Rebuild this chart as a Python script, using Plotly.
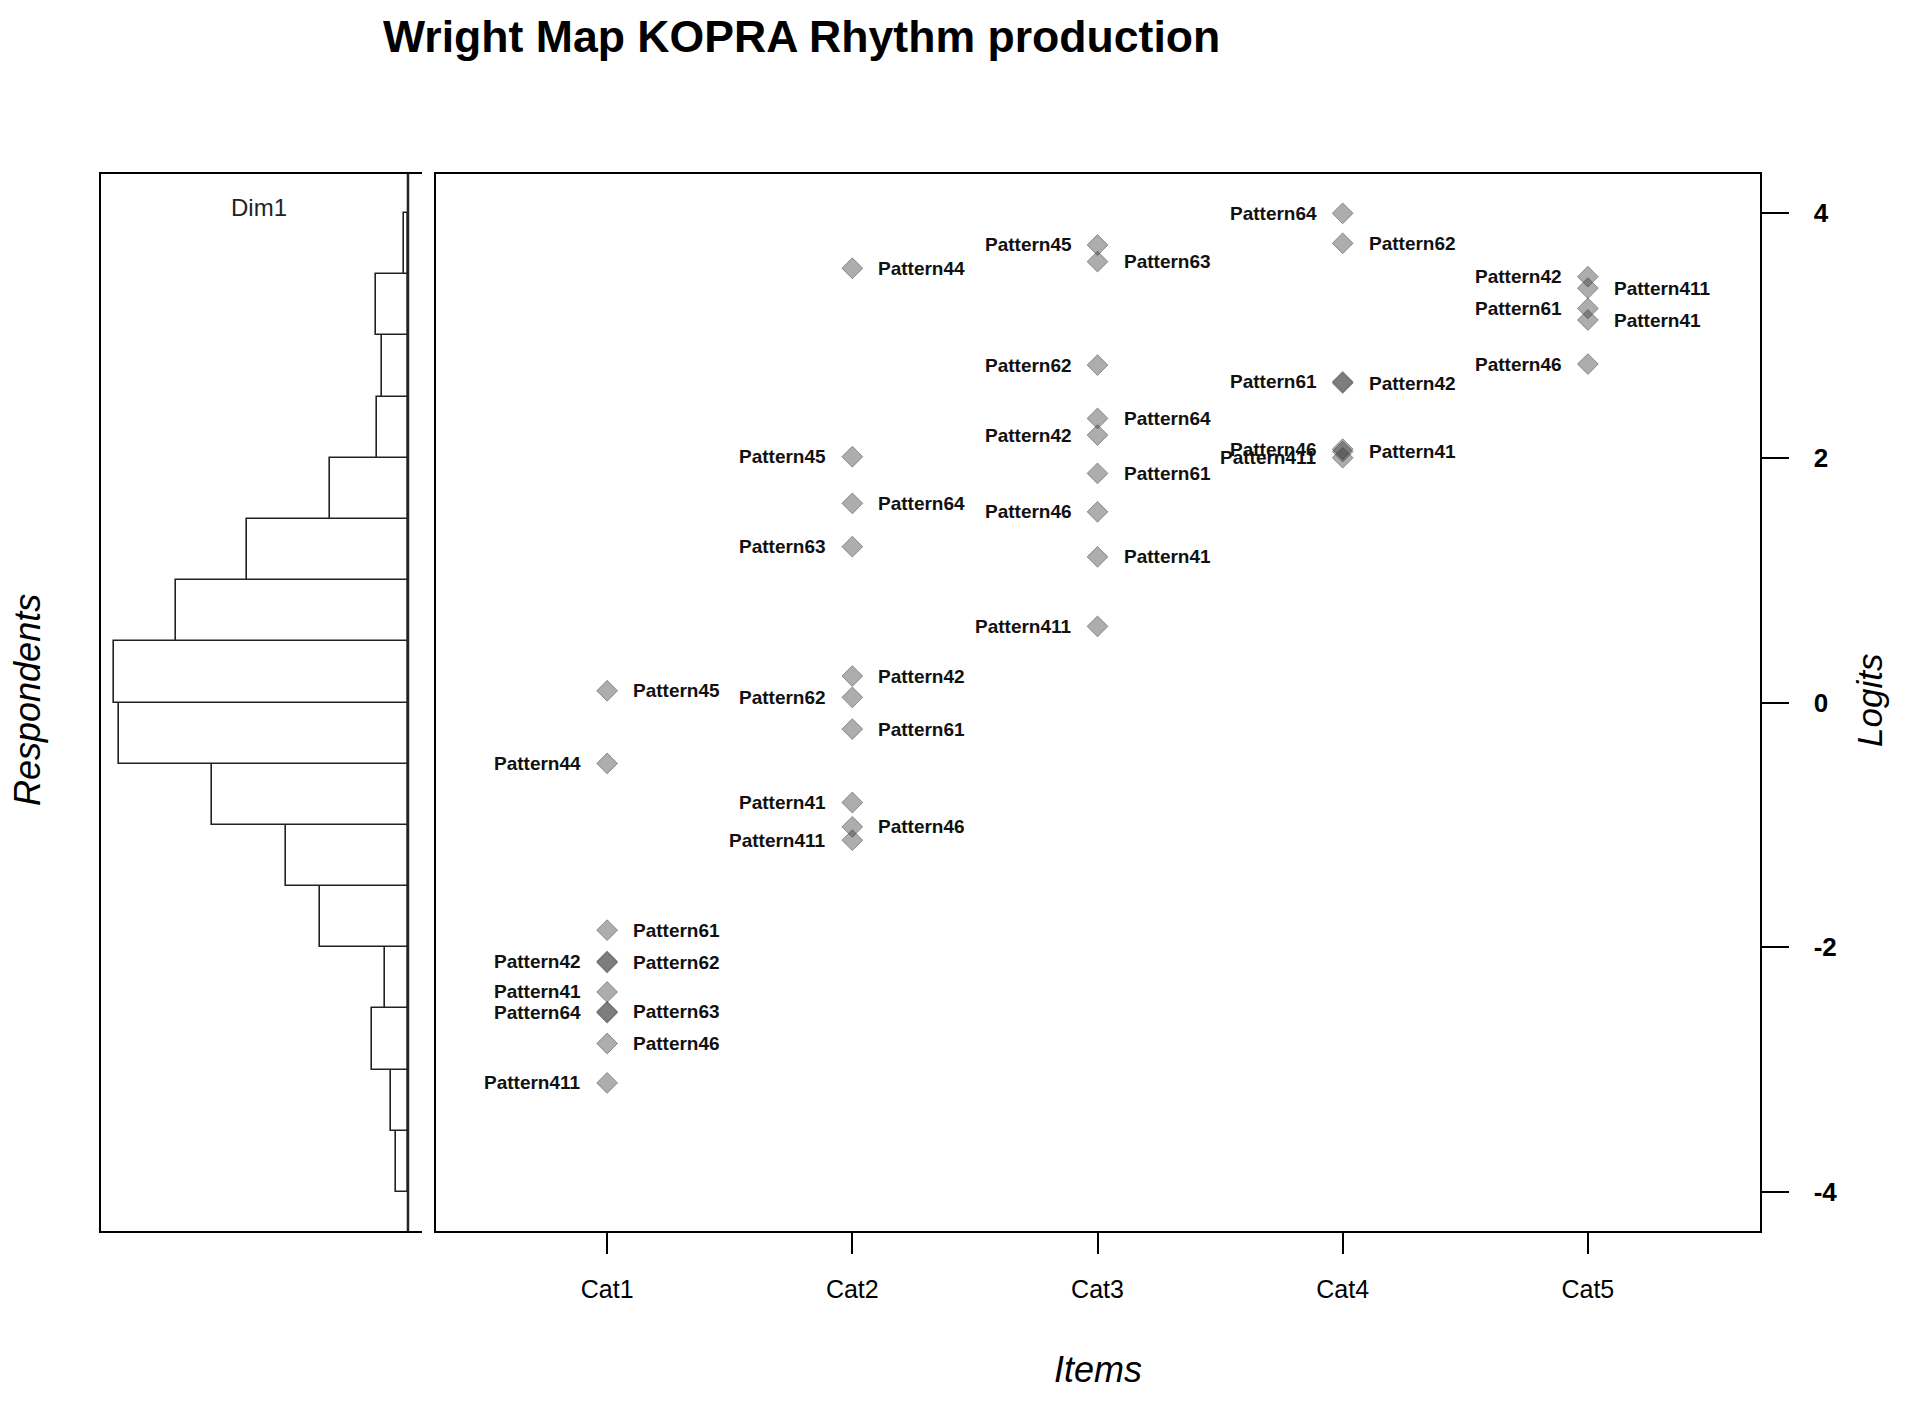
import plotly.graph_objects as go

# ---------------- data ----------------
categories = ["Cat1", "Cat2", "Cat3", "Cat4", "Cat5"]
item_names = ["Pattern41", "Pattern411", "Pattern42", "Pattern44", "Pattern45",
              "Pattern46", "Pattern61", "Pattern62", "Pattern63", "Pattern64"]
# item thresholds (logits) per category, aligned with item_names (None = no threshold)
cat1_logits = [-2.365, -3.108, -2.115, -0.498, 0.096, -2.786, -1.860, -2.125, -2.525, -2.535]
cat2_logits = [-0.817, -1.125, 0.216, 3.548, 2.008, -1.016, -0.217, 0.042, 1.273, 1.627]
cat3_logits = [1.190, 0.622, 2.185, None, 3.738, 1.558, 1.872, 2.757, 3.602, 2.321]
cat4_logits = [2.050, 2.000, 2.610, None, None, 2.070, 2.620, 3.752, None, 3.997]
cat5_logits = [3.125, 3.385, 3.479, None, None, 2.765, 3.220, None, None, None]

# respondent distribution (histogram, bins of 0.5 logit)
bin_lower = [-4.0, -3.5, -3.0, -2.5, -2.0, -1.5, -1.0, -0.5,
             0.0, 0.5, 1.0, 1.5, 2.0, 2.5, 3.0, 3.5]
respondent_freq = [2.0, 2.9, 6.1, 4.0, 15.1, 20.8, 33.6, 49.5,
                   50.2, 39.6, 27.5, 13.4, 5.3, 4.4, 5.4, 0.6]
bin_width = 0.5

logit_ticks = [-4, -2, 0, 2, 4]
logit_tick_text = ["-4", "-2", "0", "2", "4"]

# ---------------- layout helpers ----------------
PAGE_OFF = 8                      # default body margin of the html page
FW, FH = 1907 - 2 * PAGE_OFF, 1401 - 2 * PAGE_OFF
def px(x):
    return (x - PAGE_OFF) / FW
def py(y):
    return 1 - (y - PAGE_OFF) / FH

FONT = "Liberation Sans, Arial, sans-serif"
Y_RANGE = [-4.318, 4.318]
dom_y = [py(1231), py(174)]

fig = go.Figure()

# histogram of respondents
fig.add_trace(go.Bar(
    x=respondent_freq,
    y=[b + bin_width / 2 for b in bin_lower],
    width=bin_width,
    orientation="h",
    marker=dict(color="white", line=dict(color="#222222", width=1.6)),
    xaxis="x2", yaxis="y2",
    hoverinfo="skip",
    showlegend=False,
))

# item thresholds
all_cats = [cat1_logits, cat2_logits, cat3_logits, cat4_logits, cat5_logits]
xs, ys, names = [], [], []
annotations = []
for ci, vals in enumerate(all_cats):
    xpos = ci + 1
    pts = [(v, n) for v, n in zip(vals, item_names) if v is not None]
    for v, n in pts:
        xs.append(xpos)
        ys.append(v)
        names.append(n)
    # labels alternate left / right from the lowest threshold upward
    for k, (v, n) in enumerate(sorted(pts)):
        left = (k % 2 == 0)
        annotations.append(dict(
            x=xpos, y=v, xref="x", yref="y",
            text=n, showarrow=False,
            xanchor="right" if left else "left",
            yanchor="middle",
            xshift=-24 if left else 24,
            font=dict(family=FONT, size=19, color="#111111", weight="bold"),
        ))

fig.add_trace(go.Scatter(
    x=xs, y=ys, mode="markers",
    marker=dict(symbol="diamond", size=16,
                color="rgba(60,60,60,0.42)",
                line=dict(color="rgba(40,40,40,0.42)", width=1)),
    text=names, hoverinfo="text",
    showlegend=False,
))

# titles and labels
annotations += [
    dict(x=px(801), y=py(37), xref="paper", yref="paper",
         text="<b>Wright Map KOPRA Rhythm production</b>", showarrow=False,
         xanchor="center", yanchor="middle",
         font=dict(family=FONT, size=44.6, color="black")),
    dict(x=px(259), y=py(207), xref="paper", yref="paper",
         text="Dim1", showarrow=False, xanchor="center", yanchor="middle",
         font=dict(family=FONT, size=24, color="#222222")),
    dict(x=px(27), y=py(700), xref="paper", yref="paper",
         text="<i>Respondents</i>", showarrow=False, textangle=-90,
         xanchor="center", yanchor="middle",
         font=dict(family=FONT, size=36, color="black")),
    dict(x=px(1869), y=py(701), xref="paper", yref="paper",
         text="<i>Logits</i>", showarrow=False, textangle=-90,
         xanchor="center", yanchor="middle",
         font=dict(family=FONT, size=35, color="black")),
    dict(x=px(1098), y=py(1369), xref="paper", yref="paper",
         text="<i>Items</i>", showarrow=False,
         xanchor="center", yanchor="middle",
         font=dict(family=FONT, size=36, color="black")),
]

fig.update_layout(
    width=FW, height=FH,
    autosize=False,
    margin=dict(l=0, r=0, t=0, b=0),
    paper_bgcolor="white",
    plot_bgcolor="white",
    font=dict(family=FONT, color="black"),
    bargap=0,
    showlegend=False,
    annotations=annotations,
    xaxis=dict(
        domain=[px(435.5), px(1759.5)],
        range=[0.3, 5.7],
        tickmode="array",
        tickvals=[1, 2, 3, 4, 5],
        ticktext=categories,
        ticks="outside", ticklen=21, tickwidth=1.5, tickcolor="black",
        ticklabelstandoff=14,
        tickfont=dict(family=FONT, size=25, color="black"),
        showline=True, mirror=True, linecolor="black", linewidth=2,
        showgrid=False, zeroline=False,
        anchor="y",
    ),
    yaxis=dict(
        domain=dom_y,
        range=Y_RANGE,
        side="right",
        tickmode="array",
        tickvals=logit_ticks,
        ticktext=logit_tick_text,
        ticks="outside", ticklen=27, tickwidth=1.5, tickcolor="black",
        ticklabelstandoff=20,
        tickfont=dict(family=FONT, size=26, color="black", weight="bold"),
        showline=True, mirror=True, linecolor="black", linewidth=2,
        showgrid=False, zeroline=False,
        anchor="x",
    ),
    xaxis2=dict(
        domain=[px(101), px(422)],
        range=[52.5, -2.4],
        showticklabels=False, ticks="",
        showline=True, mirror=True, linecolor="black", linewidth=2,
        showgrid=False, zeroline=False,
        anchor="y2",
    ),
    yaxis2=dict(
        domain=dom_y,
        range=Y_RANGE,
        showticklabels=False, ticks="",
        showline=True, mirror=False, linecolor="black", linewidth=2,
        showgrid=False, zeroline=False,
        anchor="x2",
    ),
    shapes=[
        dict(type="line", xref="x2", yref="paper", x0=0, x1=0,
             y0=dom_y[0], y1=dom_y[1],
             line=dict(color="#222222", width=2.5)),
    ],
)

fig.write_html("out.html")
